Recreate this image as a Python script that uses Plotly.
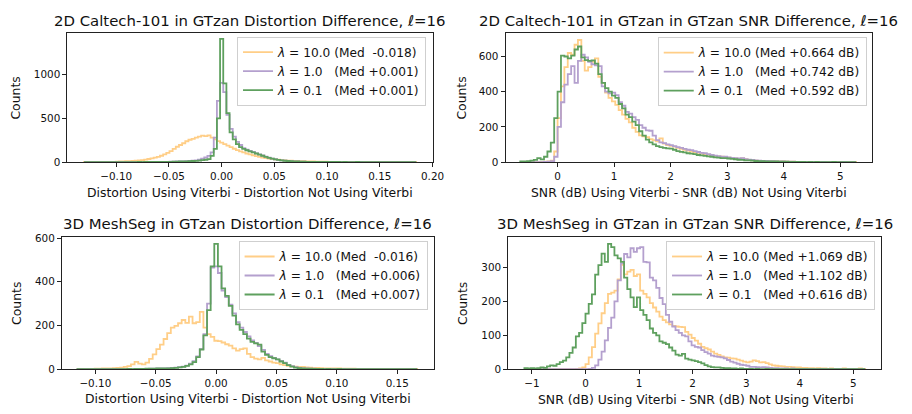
import numpy as np
import plotly.graph_objects as go

# ---------------- data (histogram counts) ----------------
# Top-left: 2D Caltech-101, distortion difference
tl_start, tl_width = -0.1305, 0.003
tl_l10 = [1,0,1,1,2,1,2,2,3,3, 5,6,7,9,10,12,15,18,22,27,
          35,42,50,60,72,88,105,125,150,175, 195,215,238,255,265,280,290,302,296,305,
          280,260,240,222,205,188,170,152,136,122, 110,98,88,78,68,60,52,45,40,35,
          30,26,22,20,17,15,13,12,10,9, 8,7,6,5,5,4,4,3,3,2,
          2,2,1,2,1,1,1,1,0,1, 1,0,1,0,0,1,0,0,0,1,0,0,0,0,1]
tl_l1 = [0,0,0,0,0,0,0,0,0,0, 0,0,0,0,0,0,0,0,1,1,
         1,1,2,2,2,3,3,4,5,6, 7,8,10,12,15,20,27,38,52,70,
         110,280,700,905,800,540,380,290,230,195, 160,142,128,115,100,88,75,62,50,40,
         32,25,20,16,13,10,8,6,5,4, 3,3,2,2,2,1,1,1,1,1,
         1,0,1,0,0,0,0,1,0,0, 0,0,0,0,0,0,0,0,0,0,0,0,0,0,0]
tl_l01 = [0,0,0,0,0,0,0,0,0,0, 0,0,0,0,0,0,0,1,0,1,
          1,1,1,2,2,2,3,3,4,5, 6,7,8,10,12,14,17,21,26,33,
          70,150,500,1410,900,560,340,260,205,170, 150,135,122,110,98,85,72,60,48,38,
          30,24,19,15,12,10,8,6,5,4, 3,3,2,2,2,1,1,1,1,1,
          1,0,1,0,0,0,1,0,0,0, 0,0,0,0,0,0,0,0,0,0,0,0,0,0,0]
tl_labels = ["<i>λ</i> = 10.0 (Med\u00a0\u00a0-0.018)",
             "<i>λ</i> = 1.0\u00a0\u00a0\u00a0(Med +0.001)",
             "<i>λ</i> = 0.1\u00a0\u00a0\u00a0(Med +0.001)"]

# Top-right: 2D Caltech-101, SNR difference
tr_start, tr_width = -0.66, 0.06
tr_l10 = [0,0,0,0,0,0,1,2,3,8, 60,250,430,540,620,610,667,694,575,520,
          540,570,590,485,450,395,365,345,325,295, 270,245,225,195,172,152,146,142,130,124,
          118,135,105,96,92,88,80,75,70,65, 60,55,52,48,45,42,38,35,32,30,
          27,25,22,20,18,20,16,12,10,8, 7,6,5,5,4,3,3,3,2,2,
          2,1,1,1,1,1,0,1,0,1, 0,0,0,0,1,0,0,0,1]
tr_l1 = [0,0,0,0,0,0,0,1,2,5, 30,200,340,440,500,545,450,575,610,595,
         570,556,550,545,430,400,390,395,380,340, 320,285,275,255,240,210,195,180,178,150,
         125,112,108,100,96,90,85,80,75,70, 68,62,57,52,50,45,40,36,33,30,
         30,27,24,22,20,22,17,14,12,10, 8,7,6,5,5,4,3,3,2,2,
         2,1,1,1,1,0,1,0,0,1, 0,0,0,0,0,1,0,0,0]
tr_l01 = [3,4,5,8,12,22,15,30,60,110, 250,400,605,600,590,605,640,657,595,580,
          575,578,560,500,450,420,400,378,365,330, 305,270,255,230,210,175,150,128,112,100,
          90,85,80,78,76,70,62,58,55,50, 48,45,40,38,35,32,30,27,25,22,
          22,20,18,16,13,12,10,9,8,6, 5,5,4,4,3,3,2,2,2,1,
          1,1,1,1,0,1,0,1,0,0, 0,0,1,0,0,0,0,0,0]
tr_labels = ["<i>λ</i> = 10.0 (Med +0.664 dB)",
             "<i>λ</i> = 1.0\u00a0\u00a0\u00a0(Med +0.742 dB)",
             "<i>λ</i> = 0.1\u00a0\u00a0\u00a0(Med +0.592 dB)"]

# Bottom-left: 3D MeshSeg, distortion difference
bl_start, bl_width = -0.1155, 0.003
bl_l10 = [0,1,0,1,1,2,2,3,3,4, 5,6,7,10,14,22,33,25,22,30,
          47,68,92,112,138,165,190,198,210,225, 212,240,210,215,262,190,160,148,130,128,
          122,114,108,95,85,92,95,70,55,48, 45,52,40,35,30,28,22,18,15,13,
          12,10,10,8,7,6,6,5,4,4, 3,3,3,2,2,2,2,1,1,1,
          1,1,1,0,1,1,0,0,1,0,0,1,0,1]
bl_l1 = [0,0,0,0,0,0,0,0,0,0, 0,0,0,0,0,0,1,0,1,1,
         2,2,3,3,4,5,6,7,9,12, 16,25,37,58,92,160,300,465,470,440,
         360,330,295,255,215,190,170,150,132,120, 105,88,70,60,52,45,38,30,20,14,
         9,6,4,3,2,2,1,1,1,0, 1,0,0,1,0,0,0,0,0,0,
         0,0,0,0,0,0,0,0,0,0,0,0,0,0]
bl_l01 = [0,0,0,0,0,0,0,0,0,0, 0,0,0,0,1,0,1,1,1,2,
          2,2,3,3,4,4,5,6,8,10, 15,22,32,55,90,155,270,470,573,470,
          370,335,290,245,205,180,160,140,125,118, 112,80,65,55,50,45,35,28,18,12,
          7,5,3,2,2,1,1,1,0,1, 0,0,1,0,0,0,0,0,0,0,
          0,0,0,0,0,0,0,0,0,0,0,0,0,0]
bl_labels = ["<i>λ</i> = 10.0 (Med\u00a0\u00a0-0.016)",
             "<i>λ</i> = 1.0\u00a0\u00a0\u00a0(Med +0.006)",
             "<i>λ</i> = 0.1\u00a0\u00a0\u00a0(Med +0.007)"]

# Bottom-right: 3D MeshSeg, SNR difference
br_start, br_width = -1.14, 0.06
br_l10 = [0,0,0,0,0,0,0,0,0,0, 0,0,0,0,0,0,1,2,5,15,
          35,65,105,135,165,195,222,226,232,265, 308,280,288,293,275,280,232,222,212,195,
          182,170,155,145,138,132,128,126,125,124, 110,102,92,84,75,66,62,58,52,46,
          42,38,35,34,32,31,28,25,22,20, 22,26,24,20,21,18,14,11,10,9,
          8,7,7,6,5,5,4,4,3,3, 2,3,2,2,1,2,1,1,1,2, 1,1,1,1,2,1]
br_l1 = [0,0,0,0,0,0,0,0,0,0, 0,0,0,0,0,0,0,0,0,0,
         1,4,11,28,52,85,122,152,200,262, 312,340,330,357,346,357,360,317,315,270,
         262,240,210,192,160,140,126,115,107,100, 97,82,70,66,64,56,50,46,40,38,
         36,35,32,27,22,19,16,13,12,10, 7,7,6,5,6,5,4,3,3,2,
         2,2,1,2,1,1,1,1,0,1, 0,0,1,0,0,0,0,1,0,0, 0,0,0,0,0,0]
br_l01 = [3,2,3,2,3,5,4,8,11,10, 15,21,25,35,48,64,97,107,136,164,
          193,221,279,307,341,317,370,360,336,327, 317,270,236,212,183,212,174,160,145,120,
          107,100,82,78,74,64,55,43,40,45, 31,28,26,24,21,17,12,8,6,5,
          5,4,3,3,2,2,1,2,1,1, 1,0,1,0,0,1,0,0,0,0,
          0,0,0,0,0,0,0,0,0,0, 0,0,0,0,0,0,0,0,0,0, 0,0,0,0,0,0]
br_labels = ["<i>λ</i> = 10.0 (Med +1.069 dB)",
             "<i>λ</i> = 1.0\u00a0\u00a0\u00a0(Med +1.102 dB)",
             "<i>λ</i> = 0.1\u00a0\u00a0\u00a0(Med +0.616 dB)"]

titles = ["2D Caltech-101 in GTzan Distortion Difference, ℓ=16",
          "2D Caltech-101 in GTzan in GTzan SNR Difference, ℓ=16",
          "3D MeshSeg in GTzan Distortion Difference, ℓ=16",
          "3D MeshSeg in GTzan in GTzan SNR Difference, ℓ=16"]
xlabels = ["Distortion Using Viterbi - Distortion Not Using Viterbi",
           "SNR (dB) Using Viterbi - SNR (dB) Not Using Viterbi",
           "Distortion Using Viterbi - Distortion Not Using Viterbi",
           "SNR (dB) Using Viterbi - SNR (dB) Not Using Viterbi"]
ylabel = "Counts"

# ---------------- styling / layout ----------------
W, H = 912, 414
FONT = "DejaVu Sans"
COLORS = ["rgb(255,206,135)", "rgb(180,160,206)", "rgb(94,160,94)"]
TITLE_SIZE, LABEL_SIZE, LEGEND_SIZE, TICK_SIZE = 14.9, 12.4, 12.2, 10.4

def fx(px):
    return px / W

def fy(py):
    return 1 - py / H

# axis pixel boxes: (left, right, top, bottom)
boxes = [(68.3, 438.3, 28.3, 160.7), (512.3, 883.3, 28.3, 160.7),
         (62.7, 440.0, 238.3, 374.0), (515.0, 893.0, 238.3, 374.0)]
xranges = [[-0.1463, 0.20], [-0.920, 5.555], [-0.1277, 0.1806], [-1.442, 5.52]]
yranges = [[0, 1471], [0, 731], [0, 603], [0, 389]]
xdticks = [0.05, 1, 0.05, 1]
xfmts = [".2f", "d", ".2f", "d"]
ydticks = [500, 200, 200, 100]
legend_pos = [(431.7, 31.5), (878.3, 32.0), (433.3, 242.0), (886.7, 242.0)]
title_pos = [(253.3, 15.5), (698.0, 15.0), (251.3, 225.0), (704.0, 225.0)]
xlabel_pos = [(253.3, 192.0), (698.0, 192.5), (251.3, 404.5), (705.5, 405.0)]
ylabel_pos = [(16.0, 94.5), (468.0, 94.5), (16.0, 306.0), (468.0, 306.0)]

panels = [(tl_start, tl_width, [tl_l10, tl_l1, tl_l01], tl_labels),
          (tr_start, tr_width, [tr_l10, tr_l1, tr_l01], tr_labels),
          (bl_start, bl_width, [bl_l10, bl_l1, bl_l01], bl_labels),
          (br_start, br_width, [br_l10, br_l1, br_l01], br_labels)]


def step_xy(start, width, counts):
    counts = np.asarray(counts, dtype=float)
    edges = start + width * np.arange(len(counts) + 1)
    x = np.concatenate([[edges[0]], edges])
    y = np.concatenate([[0.0], counts, [0.0]])
    return x, y


fig = go.Figure()
layout = dict(width=W, height=H, autosize=False,
              margin=dict(l=0, r=0, t=0, b=0),
              paper_bgcolor="white", plot_bgcolor="white",
              font=dict(family=FONT, size=TICK_SIZE, color="#111"),
              showlegend=True, annotations=[])

for i, (start, width, series, labels) in enumerate(panels):
    sfx = "" if i == 0 else str(i + 1)
    legname = "legend" if i == 0 else "legend" + str(i + 1)
    for counts, lab, col in zip(series, labels, COLORS):
        x, y = step_xy(start, width, counts)
        fig.add_trace(go.Scatter(x=x, y=y, mode="lines", name=lab,
                                 line=dict(color=col, width=1.8, shape="hv"),
                                 xaxis="x" + sfx, yaxis="y" + sfx,
                                 legend=legname, hoverinfo="skip"))
    l, r, t, b = boxes[i]
    common = dict(showline=True, linecolor="#222", linewidth=1, mirror=True,
                  ticks="outside", ticklen=4, tickwidth=1, tickcolor="#222",
                  showgrid=False, zeroline=False,
                  tickfont=dict(family=FONT, size=TICK_SIZE, color="#111"))
    layout["xaxis" + sfx] = dict(common, domain=[fx(l), fx(r)], anchor="y" + sfx,
                                 range=xranges[i], tick0=0, dtick=xdticks[i],
                                 tickformat=xfmts[i])
    layout["yaxis" + sfx] = dict(common, domain=[fy(b), fy(t)], anchor="x" + sfx,
                                 range=yranges[i], tick0=0, dtick=ydticks[i])
    lx, ly = legend_pos[i]
    layout[legname] = dict(x=fx(lx), y=fy(ly), xanchor="right", yanchor="top",
                           xref="paper", yref="paper",
                           bgcolor="rgba(255,255,255,0.85)", bordercolor="#cfcfcf",
                           borderwidth=1,
                           font=dict(family=FONT, size=LEGEND_SIZE, color="#111"),
                           tracegroupgap=0)
    tx, ty = title_pos[i]
    layout["annotations"].append(dict(text=titles[i], x=fx(tx), y=fy(ty), xref="paper",
                                      yref="paper", showarrow=False, xanchor="center",
                                      yanchor="middle",
                                      font=dict(family=FONT, size=TITLE_SIZE, color="#111")))
    ax_, ay_ = xlabel_pos[i]
    layout["annotations"].append(dict(text=xlabels[i], x=fx(ax_), y=fy(ay_), xref="paper",
                                      yref="paper", showarrow=False, xanchor="center",
                                      yanchor="middle",
                                      font=dict(family=FONT, size=LABEL_SIZE, color="#111")))
    yx, yy = ylabel_pos[i]
    layout["annotations"].append(dict(text=ylabel, x=fx(yx), y=fy(yy), xref="paper",
                                      yref="paper", showarrow=False, xanchor="center",
                                      yanchor="middle", textangle=-90,
                                      font=dict(family=FONT, size=LABEL_SIZE, color="#111")))

fig.update_layout(**layout)
fig.write_html("out.html", config={"displayModeBar": False},
               post_script="document.body.style.margin='0';document.body.style.padding='0';")
